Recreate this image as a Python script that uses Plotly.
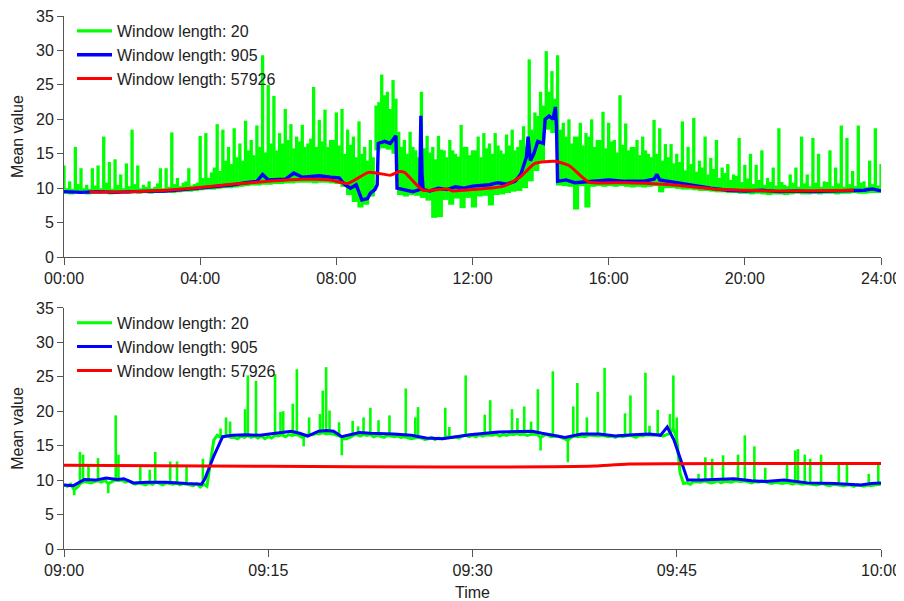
import pandas as pd
import plotly.graph_objects as go

# ---------------- top panel: whole day ----------------
# green (window 20): tall spike tops every 10 min from 00:00
day_green_peaks = [
    13.3, 11.0, 16.0, 12.9, 10.5, 12.9,
    13.3, 17.5, 13.8, 14.2, 12.0, 13.6,
    18.5, 13.3, 10.5, 11.0, 10.2, 12.9,
    12.9, 18.1, 11.5, 10.8, 12.9, 10.6,
    17.6, 18.0, 12.3, 19.3, 18.5, 16.0,
    18.7, 16.5, 19.8, 17.0, 19.1, 29.3,
    25.0, 23.4, 18.0, 21.5, 19.3, 17.5,
    19.2, 16.5, 24.7, 19.9, 21.4, 17.0,
    21.0, 21.5, 18.5, 17.5, 19.7, 16.0,
    17.0, 22.0, 26.5, 24.0, 25.7, 18.2,
    17.0, 18.2, 15.5, 24.0, 17.6, 16.0,
    17.6, 15.5, 17.0, 15.0, 19.2, 16.0,
    15.5, 17.5, 18.0, 16.5, 18.0, 15.5,
    17.8, 18.5, 16.0, 19.0, 28.7, 21.0,
    24.0, 29.9, 27.0, 29.3, 19.5, 20.0,
    17.5, 19.5, 18.0, 20.0, 17.0, 21.1,
    19.5, 17.0, 23.5, 19.4, 16.0, 17.0,
    17.5, 15.0, 19.9, 18.7, 16.4, 16.4,
    15.0, 19.7, 16.0, 20.2, 14.0, 17.5,
    14.4, 17.0, 13.0, 13.5, 12.0, 17.3,
    13.4, 15.0, 13.4, 15.5, 11.5, 13.0,
    18.7, 10.5, 12.0, 13.0, 17.5, 12.0,
    17.3, 15.0, 11.0, 15.5, 13.0, 19.1,
    17.3, 12.5, 19.1, 11.0, 14.0, 18.7,
    13.5,
]
# green lower edge, every 10 min from 00:05
day_green_troughs = [
    9.2, 9.1, 9.3, 9.2, 9.1, 9.2,
    9.2, 9.3, 9.1, 9.2, 9.3, 9.2,
    9.3, 9.2, 9.3, 9.2, 9.3, 9.3,
    9.4, 9.3, 9.4, 9.5, 9.5, 9.6,
    9.7, 9.8, 9.8, 9.9, 10.0, 10.0,
    10.1, 10.2, 10.3, 10.4, 10.4, 10.5,
    10.5, 10.6, 10.6, 10.7, 10.7, 10.8,
    10.8, 10.8, 10.7, 10.8, 10.8, 10.7,
    10.6, 10.2, 9.0, 8.0, 7.2, 7.6,
    8.8, 15.5, 15.8, 15.6, 15.0, 9.0,
    8.8, 9.0, 8.9, 8.6, 8.2, 5.7,
    5.8, 8.3, 7.6, 8.5, 7.1, 8.6,
    7.2, 8.8, 8.9, 7.5, 9.0, 9.1,
    9.3, 9.5, 9.6, 10.0, 11.0, 12.5,
    14.0, 18.5, 18.0, 10.4, 10.3, 10.2,
    6.9, 10.3, 7.2, 10.2, 10.3, 10.2,
    10.3, 10.2, 10.3, 10.2, 10.1, 10.2,
    10.1, 10.2, 10.3, 9.4, 10.0, 10.0,
    9.9, 9.8, 9.8, 9.7, 9.6, 9.6,
    9.5, 9.4, 9.4, 9.3, 9.3, 9.2,
    9.2, 9.1, 9.2, 9.1, 9.0, 9.1,
    9.1, 9.0, 9.1, 9.2, 9.1, 9.1,
    9.2, 9.1, 9.2, 9.2, 9.1, 9.2,
    9.2, 9.3, 9.2, 9.2, 9.3, 9.3,
]
# green smaller spike tops (dense band), every 10 min from 00:05
day_green_body = [
    10.0, 9.9, 10.6, 10.0, 9.9, 10.4,
    10.0, 10.8, 9.9, 10.5, 10.0, 10.3,
    10.6, 10.0, 10.2, 10.0, 10.7, 10.0,
    10.2, 10.6, 10.3, 11.0, 10.4, 10.8,
    11.5, 11.5, 13.0, 12.5, 14.0, 13.5,
    14.5, 14.0, 15.5, 14.8, 16.0, 15.2,
    16.5, 15.5, 16.5, 17.0, 15.8, 16.8,
    16.0, 17.2, 16.0, 16.8, 16.0, 17.0,
    16.2, 15.0, 16.3, 14.5, 15.0, 14.0,
    14.5, 22.5, 23.5, 21.5, 23.0, 16.0,
    15.0, 16.0, 14.5, 15.8, 15.2, 14.2,
    15.6, 14.5, 15.5, 14.6, 16.0, 14.8,
    15.5, 14.5, 15.8, 15.0, 16.2, 15.0,
    16.2, 15.5, 17.0, 16.0, 18.5, 20.5,
    22.0, 24.0, 23.0, 18.5, 17.5, 16.5,
    17.5, 16.2, 17.5, 16.0, 17.0, 15.8,
    16.8, 15.2, 16.3, 15.5, 16.0, 14.8,
    15.5, 14.5, 15.0, 14.0, 14.5, 13.6,
    13.8, 12.6, 13.5, 12.4, 13.0, 12.0,
    12.8, 11.5, 12.2, 11.2, 11.8, 10.9,
    11.4, 10.6, 11.2, 10.5, 10.9, 10.4,
    10.9, 10.3, 10.8, 10.2, 10.7, 10.3,
    10.8, 10.2, 10.9, 10.3, 10.7, 10.2,
    10.6, 10.3, 10.8, 10.2, 10.6, 10.4,
]

day_blue_time = [
    "00:00", "00:30", "01:00", "01:30", "02:00", "02:30", "03:00", "03:30",
    "04:00", "04:30", "05:00", "05:20", "05:40", "05:50", "06:00", "06:30",
    "06:45", "07:00", "07:30", "07:50", "08:05", "08:15", "08:25", "08:35",
    "08:45", "08:55", "09:00", "09:08", "09:12", "09:14", "09:25", "09:35",
    "09:40", "09:45", "09:47", "10:00", "10:15", "10:27", "10:29", "10:31",
    "10:33", "10:45", "11:00", "11:15", "11:30", "11:45", "12:00", "12:30",
    "12:45", "13:00", "13:15", "13:25", "13:35", "13:38", "13:42", "13:48",
    "13:55", "14:05", "14:08", "14:15", "14:22", "14:26", "14:28", "14:30",
    "14:45", "15:00", "15:30", "16:00", "16:30", "17:00", "17:20", "17:25",
    "17:30", "18:00", "18:30", "19:00", "19:30", "20:00", "20:30", "21:00",
    "21:30", "22:00", "22:30", "23:00", "23:30", "23:45", "24:00",
]
day_blue_value = [
    9.5, 9.4, 9.5, 9.4, 9.5, 9.5, 9.6, 9.8,
    10.0, 10.3, 10.5, 10.8, 11.0, 12.0, 11.2, 11.3,
    12.2, 11.6, 11.8, 11.6, 11.5, 10.5, 10.0, 10.5,
    8.3, 8.5, 9.3, 9.8, 10.5, 16.5, 16.8, 16.5,
    17.0, 17.6, 10.0, 9.8, 9.5, 9.8, 20.5, 12.0,
    9.8, 9.6, 10.0, 9.8, 10.2, 10.0, 10.3, 10.5,
    10.8, 10.6, 11.0, 12.0, 14.5, 17.5, 14.0, 15.0,
    16.8, 16.5, 20.0, 20.5, 20.0, 21.8, 19.0, 11.0,
    11.2, 10.8, 11.0, 11.2, 11.0, 11.0, 11.3, 12.0,
    11.2, 10.8, 10.3, 10.0, 9.7, 9.6, 9.7, 9.5,
    9.6, 9.5, 9.6, 9.6, 9.7, 9.9, 9.6,
]

day_red_time = [
    "00:45", "02:00", "03:00", "04:00", "05:00", "06:00", "07:00", "07:50",
    "08:20", "08:57", "09:36", "09:50", "10:00", "10:33", "11:15", "11:25",
    "12:00", "12:55", "13:25", "13:50", "14:25", "14:50", "15:25", "16:20",
    "17:10", "18:05", "19:05", "20:05", "21:00", "23:12",
]
day_red_value = [
    9.45, 9.5, 9.7, 10.1, 10.6, 11.0, 11.3, 11.2,
    10.7, 12.3, 11.9, 12.4, 12.3, 9.7, 9.9, 9.6,
    9.8, 10.3, 11.7, 13.6, 13.9, 13.3, 10.9, 10.8,
    10.7, 10.4, 9.9, 9.7, 9.6, 9.7,
]

day_tick_labels = ["00:00", "04:00", "08:00", "12:00", "16:00", "20:00", "24:00"]

# ---------------- bottom panel: 09:00-10:00 ----------------
# green (window 20) background level, one value every 15 s from 09:00:00 to 10:00:00
hour_green_base = [
    9.3, 9.1, 9.4, 8.6, 9.0, 9.6, 9.8, 9.7, 9.6, 9.8, 9.9, 9.7, 10.0, 9.5, 9.8, 10.0, 9.9, 10.0, 9.7, 9.9,
    9.6, 9.4, 9.6, 9.5, 9.3, 9.6, 9.4, 9.7, 9.5, 9.3, 9.6, 9.5, 9.4, 9.6, 9.3, 9.5, 9.4, 9.4, 9.2, 9.5,
    9.0, 9.4, 9.1, 12.5, 15.8, 16.5, 16.2, 16.3, 16.5, 16.2, 16.2, 16.0, 16.4, 16.2, 16.5, 16.2, 16.4, 16.1, 16.4, 16.0,
    16.3, 16.1, 16.5, 16.4, 16.6, 16.3, 16.6, 16.5, 16.6, 16.5, 16.2, 16.4, 16.7, 16.6, 16.8, 16.7, 16.9, 16.7, 16.8, 16.7,
    16.5, 16.4, 16.0, 16.0, 16.2, 16.5, 16.6, 16.4, 16.6, 16.5, 16.6, 16.3, 16.5, 16.4, 16.2, 16.5, 16.4, 16.3, 16.4, 16.2,
    16.3, 16.2, 16.0, 16.1, 16.2, 16.1, 15.9, 16.0, 16.2, 15.9, 16.1, 16.0, 16.2, 16.3, 16.2, 16.3, 16.1, 16.4, 16.5, 16.3,
    16.5, 16.3, 16.6, 16.4, 16.6, 16.5, 16.5, 16.7, 16.4, 16.6, 16.5, 16.7, 16.6, 16.8, 16.6, 16.7, 16.5, 16.6, 16.7, 16.6,
    16.2, 16.5, 16.6, 16.3, 16.4, 16.4, 16.2, 16.0, 15.8, 16.2, 16.4, 16.3, 16.4, 16.3, 16.5, 16.5, 16.4, 16.4, 16.5, 16.4,
    16.3, 16.4, 16.2, 16.5, 16.3, 16.4, 16.5, 16.4, 16.2, 16.5, 16.4, 16.6, 16.5, 16.5, 16.6, 16.6, 16.4, 16.6, 16.8, 17.5,
    16.0, 11.0, 9.5, 9.6, 9.4, 9.8, 9.7, 9.7, 9.9, 9.8, 9.6, 9.7, 9.9, 9.6, 9.8, 9.8, 9.7, 9.9, 9.8, 9.8,
    9.9, 9.8, 9.6, 9.8, 9.7, 9.9, 9.7, 9.6, 9.5, 9.7, 9.6, 9.5, 9.6, 9.6, 9.4, 9.6, 9.5, 9.4, 9.5, 9.4,
    9.4, 9.3, 9.4, 9.5, 9.3, 9.2, 9.4, 9.3, 9.3, 9.2, 9.3, 9.3, 9.1, 9.3, 9.2, 9.1, 9.3, 9.2, 9.3, 9.4,
    9.4,
]
# green short excursions (minutes after 09:00, value)
hour_spike_minute = [
    0.75, 1.17, 1.4, 1.8, 2.5, 3.25, 3.8, 4.0, 5.6, 6.3, 6.7, 7.8, 8.3, 9.0, 10.2,
    11.5, 11.9, 12.2, 13.3, 13.5, 14.1, 15.5, 15.9, 16.1, 16.8, 17.1, 17.6, 18.0,
    18.8, 19.0, 19.25, 19.5, 20.2, 20.4, 21.2, 21.6, 22.0, 22.5, 23.1, 23.9, 25.1,
    25.8, 26.0, 28.0, 28.3, 29.5, 30.9, 31.3, 32.9, 33.3, 33.8, 34.3, 34.8, 35.0,
    35.9, 37.0, 37.4, 37.7, 38.4, 39.2, 39.7, 41.2, 41.6, 42.7, 43.0, 43.6, 44.5,
    44.75, 45.0, 46.6, 47.1, 47.6, 48.4, 49.5, 50.0, 50.7, 51.5, 53.1, 53.7, 53.9,
    54.4, 54.8, 55.6, 56.9, 57.5, 59.1, 59.8,
]
hour_spike_value = [
    7.8, 14.1, 13.7, 12.1, 13.2, 8.1, 19.4, 13.7, 12.1, 11.5, 14.1, 12.7, 12.7, 12.1, 13.1,
    17.5, 19.1, 18.5, 20.3, 25.2, 24.4, 25.4, 19.9, 20.0, 21.1, 26.1, 14.9, 19.1,
    19.6, 23.0, 26.4, 20.1, 18.4, 13.6, 18.6, 17.8, 19.1, 20.5, 18.7, 19.4, 23.3,
    19.1, 20.6, 20.5, 17.7, 25.2, 19.5, 21.6, 20.3, 19.0, 20.7, 18.5, 23.2, 14.3,
    25.8, 12.6, 20.7, 24.1, 19.1, 22.8, 26.3, 19.7, 22.3, 25.6, 17.9, 20.2, 19.6,
    25.2, 19.1, 10.9, 13.3, 13.1, 13.6, 13.7, 16.5, 14.9, 11.8, 12.5, 14.3, 14.5,
    13.7, 13.1, 13.7, 12.6, 12.2, 10.9, 12.6,
]
hour_blue_minute = [
    0, 0.7, 1.5, 2.3, 3.1, 3.9, 4.4, 5.1, 6.1, 7.5, 9.0, 10.1, 10.35, 10.96,
    11.65, 12.4, 13.4, 14.4, 15.1, 16.1, 16.7, 17.3, 17.9, 18.7, 19.3, 19.8,
    20.4, 21.7, 22.5, 24.2, 25.5, 26.6, 27.8, 29.8, 31.9, 34.4, 35.1, 36.8,
    38.0, 39.3, 40.5, 41.8, 43.0, 43.8, 44.3, 44.8, 45.3, 45.8, 46.8, 48.0,
    49.2, 50.5, 51.5, 52.9, 54.6, 56.6, 58.5, 59.3, 60,
]
hour_blue_value = [
    9.3, 9.2, 10.1, 10.0, 10.3, 10.1, 10.2, 9.6, 9.7, 9.7, 9.5, 9.4, 10.2, 13.3,
    16.3, 16.5, 16.6, 16.5, 16.7, 16.9, 17.1, 16.8, 16.4, 17.1, 17.2, 17.1,
    16.3, 16.9, 16.8, 16.7, 16.5, 16.1, 16.0, 16.6, 17.0, 17.1, 16.8, 16.2,
    16.7, 16.7, 16.4, 16.6, 16.7, 16.5, 17.7, 15.8, 12.9, 10.0, 10.0, 10.1,
    10.2, 9.9, 9.8, 10.0, 9.6, 9.5, 9.3, 9.5, 9.6,
]
hour_red_minute = [0, 15, 28, 36, 39, 41.5, 60]
hour_red_value = [12.15, 12.0, 11.9, 11.95, 12.05, 12.35, 12.4]

hour_tick_labels = ["09:00", "09:15", "09:30", "09:45", "10:00"]

legend_names = ["Window length: 20", "Window length: 905", "Window length: 57926"]
series_colors = ["#00ff00", "#0000ff", "#ff0000"]

# ---------------- build x values ----------------
DAY0 = pd.Timestamp("2000-01-01")
HOUR0 = pd.Timestamp("2000-01-01 09:00")


def hhmm(t):
    return DAY0 + pd.to_timedelta(t + ":00")


# top green drawn as dense vertical strokes from the lower edge to each top
top_x, top_y = [], []
for i, pk in enumerate(day_green_peaks):
    lo = day_green_troughs[min(i, len(day_green_troughs) - 1)]
    t = DAY0 + pd.Timedelta(minutes=10 * i)
    top_x += [t, t, None]
    top_y += [lo, pk, None]
    if i < len(day_green_body):
        t2 = DAY0 + pd.Timedelta(minutes=10 * i + 5)
        top_x += [t2, t2, None]
        top_y += [day_green_troughs[i], day_green_body[i], None]

hour_base_x = [HOUR0 + pd.Timedelta(seconds=15 * i) for i in range(len(hour_green_base))]
spk_x, spk_y = [], []
for m, v in zip(hour_spike_minute, hour_spike_value):
    t = HOUR0 + pd.Timedelta(minutes=m)
    spk_x += [t, t, None]
    spk_y += [hour_green_base[int(round(m * 4))], v, None]

fig = go.Figure()
FONT = "Liberation Sans, Arial, Helvetica, sans-serif"
G = series_colors[0]

# top panel
fig.add_trace(go.Scatter(x=top_x, y=top_y, mode="lines", name=legend_names[0],
                         line=dict(color=G, width=3.3), xaxis="x", yaxis="y", legend="legend"))
fig.add_trace(go.Scatter(x=[hhmm(t) for t in day_blue_time], y=day_blue_value, mode="lines",
                         name=legend_names[1], line=dict(color=series_colors[1], width=3.4),
                         xaxis="x", yaxis="y", legend="legend"))
fig.add_trace(go.Scatter(x=[hhmm(t) for t in day_red_time], y=day_red_value, mode="lines",
                         name=legend_names[2],
                         line=dict(color=series_colors[2], width=3, shape="spline", smoothing=0.6),
                         xaxis="x", yaxis="y", legend="legend"))

# bottom panel
fig.add_trace(go.Scatter(x=hour_base_x, y=hour_green_base, mode="lines", name=legend_names[0],
                         line=dict(color=G, width=3), xaxis="x2", yaxis="y2", legend="legend2"))
fig.add_trace(go.Scatter(x=spk_x, y=spk_y, mode="lines", line=dict(color=G, width=2.6),
                         showlegend=False, hoverinfo="skip", xaxis="x2", yaxis="y2"))
fig.add_trace(go.Scatter(x=[HOUR0 + pd.Timedelta(minutes=m) for m in hour_blue_minute], y=hour_blue_value,
                         mode="lines", name=legend_names[1], line=dict(color=series_colors[1], width=3),
                         xaxis="x2", yaxis="y2", legend="legend2"))
fig.add_trace(go.Scatter(x=[HOUR0 + pd.Timedelta(minutes=m) for m in hour_red_minute], y=hour_red_value,
                         mode="lines", name=legend_names[2],
                         line=dict(color=series_colors[2], width=3, shape="spline", smoothing=0.6),
                         xaxis="x2", yaxis="y2", legend="legend2"))

axis_common = dict(showline=True, linecolor="#555555", linewidth=1, ticks="outside",
                   tickcolor="#555555", tickwidth=1, showgrid=False, zeroline=False, automargin=False,
                   ticklabeloverflow="allow",
                   tickfont=dict(size=16, color="#222222", family=FONT))
title_font = dict(size=16, family=FONT, color="#222222")

day_tickvals = [DAY0 + pd.Timedelta(hours=4 * i) for i in range(len(day_tick_labels))]
hour_tickvals = [HOUR0 + pd.Timedelta(minutes=15 * i) for i in range(len(hour_tick_labels))]

top_dom = [1 - 242 / 535, 1]
bot_dom = [0, 242 / 535]

# the page body adds an 8 px offset, so the figure is 8 px smaller than the window
fig.update_layout(
    width=896, height=593,
    margin=dict(l=56, r=23, t=6, b=52),
    paper_bgcolor="white", plot_bgcolor="white",
    font=dict(family=FONT, size=16, color="#222222"),
    xaxis=dict(domain=[0, 1], anchor="y", range=[DAY0, DAY0 + pd.Timedelta(hours=24)],
               tickvals=day_tickvals, ticktext=day_tick_labels, ticklen=7, **axis_common),
    yaxis=dict(domain=top_dom, anchor="x", range=[0, 35], dtick=5, ticklen=6,
               title=dict(text="Mean value", font=title_font, standoff=8), **axis_common),
    xaxis2=dict(domain=[0, 1], anchor="y2", range=[HOUR0, HOUR0 + pd.Timedelta(hours=1)],
                tickvals=hour_tickvals, ticktext=hour_tick_labels, ticklen=7,
                title=dict(text="Time", font=title_font), **axis_common),
    yaxis2=dict(domain=bot_dom, anchor="x2", range=[0, 35], dtick=5, ticklen=6,
                title=dict(text="Mean value", font=title_font, standoff=8), **axis_common),
    legend=dict(x=0.0098, y=1.0037, xanchor="left", yanchor="top", bgcolor="rgba(0,0,0,0)",
                traceorder="normal",
                font=dict(size=16, family=FONT, color="#222222"), itemwidth=35, tracegroupgap=0),
    legend2=dict(x=0.0098, y=0.4561, xanchor="left", yanchor="top", bgcolor="rgba(0,0,0,0)",
                 traceorder="normal",
                 font=dict(size=16, family=FONT, color="#222222"), itemwidth=35, tracegroupgap=0),
    showlegend=True,
)

fig.write_html("out.html")
